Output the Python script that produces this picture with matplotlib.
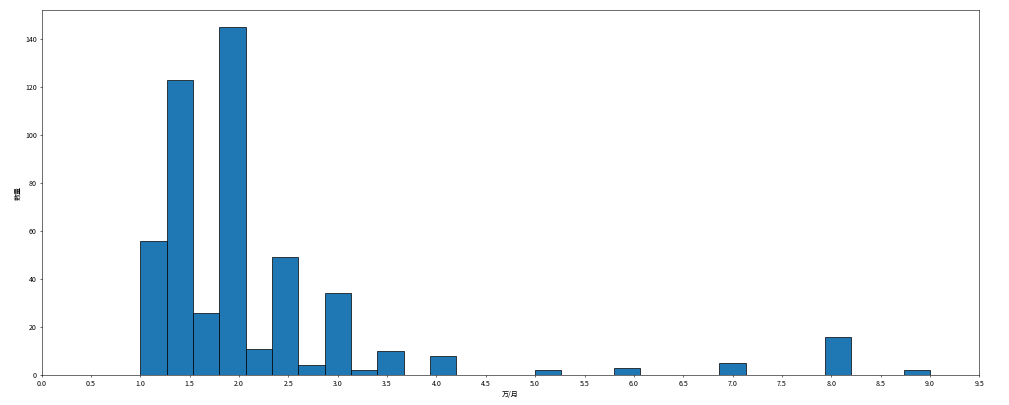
import matplotlib
matplotlib.use("Agg")
import matplotlib.pyplot as plt
import numpy as np

plt.rcParams['font.family'] = ['Noto Sans CJK SC', 'DejaVu Sans']
plt.rcParams['axes.unicode_minus'] = False

# salary values (万/月) and their counts
salary = [1.0, 1.3, 1.6, 2.0, 2.2, 2.5, 2.7, 3.0, 3.2, 3.5, 4.0, 5.0, 6.0, 7.0, 8.0, 9.0]
count = [56, 123, 26, 145, 11, 49, 4, 34, 2, 10, 8, 2, 3, 5, 16, 2]
n_bins = 30
xticks = [i * 0.5 for i in range(20)]

fig = plt.figure(figsize=(20, 8.03), dpi=50.45)
ax = fig.add_axes([41.7 / 1009, 1 - 375 / 405, (979.3 - 41.7) / 1009, (375 - 10) / 405])
ax.hist(salary, bins=n_bins, weights=count, color='#1f77b4', edgecolor='black', linewidth=1.0)
ax.set_xticks(xticks)
ax.set_xlim(0, 9.5)
ax.set_xlabel('万/月')
ax.set_ylabel('数量')
fig.savefig('out.png', dpi=50.45)
